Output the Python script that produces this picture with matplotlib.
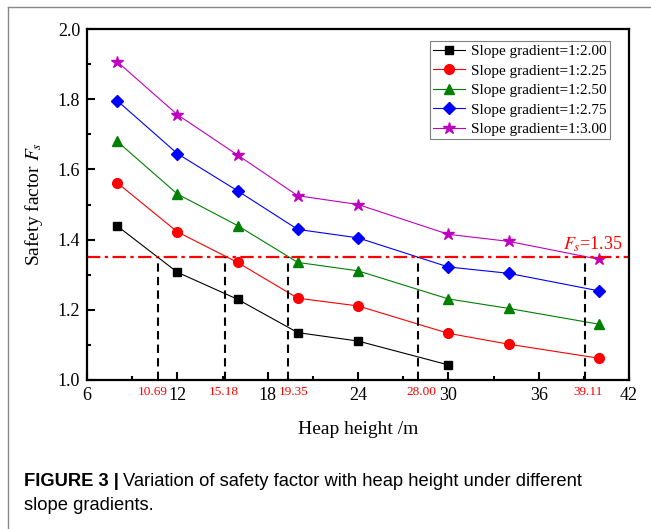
import numpy as np
import matplotlib.pyplot as plt
from matplotlib.lines import Line2D
from matplotlib.ticker import MultipleLocator

plt.rcParams['font.family'] = ['Liberation Serif', 'DejaVu Serif']
plt.rcParams['mathtext.fontset'] = 'stix'

# heap height (m) and safety factor for each slope gradient
heights = [8, 12, 16, 20, 24, 30, 34, 40]
fs_200 = [1.439, 1.307, 1.230, 1.135, 1.111, 1.043]
fs_225 = [1.562, 1.422, 1.335, 1.233, 1.211, 1.133, 1.102, 1.062]
fs_250 = [1.680, 1.530, 1.440, 1.335, 1.311, 1.231, 1.204, 1.159]
fs_275 = [1.796, 1.645, 1.539, 1.429, 1.405, 1.322, 1.304, 1.254]
fs_300 = [1.907, 1.756, 1.641, 1.525, 1.500, 1.415, 1.395, 1.344]

series_labels = ['Slope gradient=1:2.00', 'Slope gradient=1:2.25',
                 'Slope gradient=1:2.50', 'Slope gradient=1:2.75',
                 'Slope gradient=1:3.00']

# critical heights where Fs = 1.35
fs_limit = 1.35
crit_heights = [10.69, 15.18, 19.35, 28.00, 39.11]

colors = ['black', 'red', 'green', 'blue', '#c000c0']
markers = ['s', 'o', '^', 'D', '*']
msizes = [6, 7, 7, 6, 9]

fig = plt.figure(figsize=(6.51, 5.29), dpi=100)
ax = fig.add_axes([87/651, 1 - 380/529, 542/651, 351/529])

all_fs = [fs_200, fs_225, fs_250, fs_275, fs_300]
for vals, lab, c, m, ms in zip(all_fs, series_labels, colors, markers, msizes):
    ax.plot(heights[:len(vals)], vals, color=c, marker=m, markersize=ms,
            linewidth=0.8, label=lab)

# Fs = 1.35 line
ax.axhline(fs_limit, color='red', linestyle=(0, (6, 2, 1.5, 2)), linewidth=1.6)
ax.text(41.6, fs_limit + 0.008, r'$F_s$=1.35', color='red', fontsize=13,
        ha='right', va='bottom')

# dashed drop lines and red labels
label_shift = [-0.3, -0.1, 0.35, 0.2, 0.15]
for h, dx in zip(crit_heights, label_shift):
    ax.plot([h, h], [1.0, fs_limit], color='black', linestyle=(0, (4, 2.5)),
            linewidth=1.5)
    ax.annotate('%.2f' % h, xy=(h + dx, 1.0), xytext=(0, -4),
                textcoords='offset points', ha='center', va='top',
                color='red', fontsize=9.5, annotation_clip=False)

ax.set_xlim(6, 42)
ax.set_ylim(1.0, 2.0)
ax.xaxis.set_major_locator(MultipleLocator(6))
ax.xaxis.set_minor_locator(MultipleLocator(3))
ax.yaxis.set_major_locator(MultipleLocator(0.2))
ax.yaxis.set_minor_locator(MultipleLocator(0.1))
ax.yaxis.set_major_formatter(plt.FormatStrFormatter('%.1f'))

ax.tick_params(which='both', direction='in', top=False, right=False,
               width=1.5, labelsize=13)
ax.tick_params(which='major', length=5.5, pad=5)
ax.tick_params(which='minor', length=3)
for sp in ax.spines.values():
    sp.set_linewidth(1.6)

ax.set_xlabel('Heap height /m', fontsize=14, labelpad=12)
ax.set_ylabel(r'Safety factor $F_s$', fontsize=14, labelpad=9)

leg = ax.legend(loc='upper right', bbox_to_anchor=(0.965, 0.965),
                borderaxespad=0, fontsize=11, fancybox=False, framealpha=1,
                edgecolor='gray', borderpad=0.2, labelspacing=0.38,
                handlelength=2.1, handletextpad=0.4)
leg.get_frame().set_linewidth(0.8)

# panel border and caption
fig.add_artist(Line2D([8/651, 1], [1 - 7/529, 1 - 7/529], color='#888888',
                      linewidth=1, transform=fig.transFigure))
fig.add_artist(Line2D([8/651, 8/651], [0, 1 - 7/529], color='#888888',
                      linewidth=1, transform=fig.transFigure))

cap_font = ['Liberation Sans', 'DejaVu Sans']
t1 = fig.text(24/651, 1 - 482/529, 'FIGURE 3 |', fontsize=13.2,
              fontweight='bold', family=cap_font, va='center')
fig.canvas.draw()
bb = t1.get_window_extent()
fig.text(bb.x1/651 + 4/651, 1 - 482/529,
         'Variation of safety factor with heap height under different',
         fontsize=13.2, family=cap_font, va='center')
fig.text(24/651, 1 - 505/529, 'slope gradients.', fontsize=13.2,
         family=cap_font, va='center')

fig.savefig('out.png', dpi=100)
